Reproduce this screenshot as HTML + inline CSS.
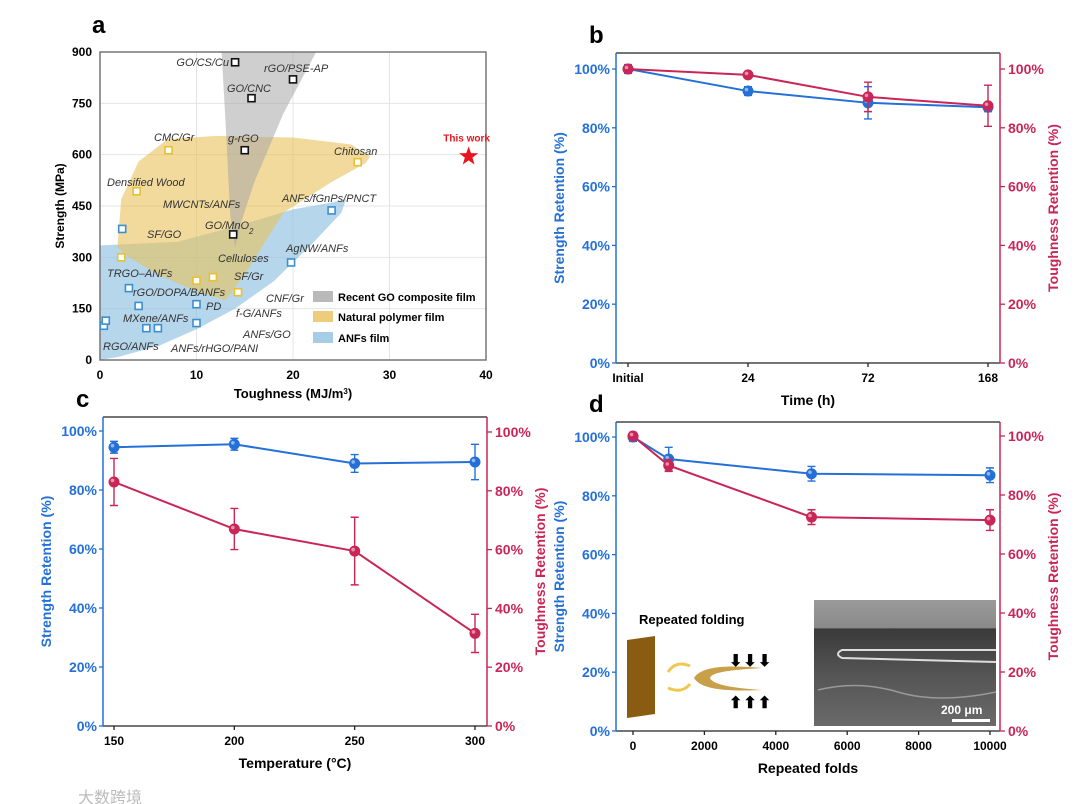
<!DOCTYPE html>
<html><head><meta charset="utf-8">
<style>
html,body{margin:0;padding:0;background:#fff;}
svg{display:block;font-family:"Liberation Sans",Arial,sans-serif;}
.tk{font-size:12px;font-weight:bold;}
.lab{font-size:11px;font-style:italic;fill:#333;}
</style></head>
<body>
<svg id="fig" width="1080" height="804" viewBox="0 0 1080 804" xmlns="http://www.w3.org/2000/svg">
<g id="pa"></g>
<g id="pb"></g>
<g id="pc"></g>
<g id="pd"></g>
<text x="78" y="803" font-size="16" fill="#bbb" font-family="'Liberation Sans','Noto Sans CJK SC',sans-serif">大数跨境</text>
</svg>
<script>
// ---------- Panel a data ----------
const aXTicks=[0,10,20,30,40];
const aYTicks=[0,150,300,450,600,750,900];
const goNames=["GO/CS/Cu","rGO/PSE-AP","GO/CNC","g-rGO","GO/MnO2"];
const goX=[14,20,15.7,15,13.8];
const goY=[870,820,765,613,367];
const npNames=["CMC/Gr","Chitosan","Densified Wood","SF/GO","Celluloses","SF/Gr","CNF/Gr"];
const npX=[7.1,26.7,3.8,2.2,10,11.7,14.3];
const npY=[613,578,493,300,232,242,198];
const anNames=["MWCNTs/ANFs","ANFs/fGnPs/PNCT","AgNW/ANFs","rGO/DOPA/BANFs","PD","MXene/ANFs","f-G/ANFs","ANFs/GO","ANFs/rHGO/PANI","RGO/ANFs","TRGO-ANFs"];
const anX=[2.3,24,19.8,3,10,4,10,6,4.8,0.4,0.6];
const anY=[383,437,285,210,163,158,108,93,93,100,115];
const starX=[38.2];
const starY=[595];
const grayRegX=[12.6,22.4,19,16,14.6,14,13.5,13];
const grayRegY=[900,900,720,520,400,330,420,700];
const yelRegX=[1.8,2.2,4,7,12,20,26,28,27.5,24,19,15,13,10,6,3,1.8];
const yelRegY=[330,470,580,645,655,650,630,595,575,520,430,250,175,200,250,300,330];
const bluRegX=[0,8,14,20,24,25.5,25,22,18,14,10,6,2,0];
const bluRegY=[335,345,390,440,460,470,430,340,230,150,90,40,10,0];

// ---------- Panel b data ----------
const bCats=["Initial","24","72","168"];
const bStrength=[100,92.5,88.5,87];
const bStrengthErr=[1.5,1.5,5.5,1.5];
const bTough=[100,98,90.5,87.5];
const bToughErr=[1.2,0.8,5,7];

// ---------- Panel c data ----------
const cX=[150,200,250,300];
const cXTicks=[150,200,250,300];
const cStrength=[94.5,95.5,89,89.5];
const cStrengthErr=[2,2,3,6];
const cTough=[83,67,59.5,31.5];
const cToughErr=[8,7,11.5,6.5];

// ---------- Panel d data ----------
const dX=[0,1000,5000,10000];
const dXTicks=[0,2000,4000,6000,8000,10000];
const dStrength=[100,92.5,87.5,87];
const dStrengthErr=[1.5,4,2.5,2.5];
const dTough=[100,90,72.5,71.5];
const dToughErr=[1.2,2,2.5,3.5];
const pctTicks=[0,20,40,60,80,100];

const NS="http://www.w3.org/2000/svg";
const BLUE="#2470d8", RED="#c92657";
function mk(parent,tag,attrs,txt){const e=document.createElementNS(NS,tag);for(const k in attrs)e.setAttribute(k,attrs[k]);if(txt!==undefined)e.textContent=txt;parent.appendChild(e);return e;}
function lin(d0,d1,p0,p1){return v=>p0+(v-d0)/(d1-d0)*(p1-p0);}

// ===== Panel A =====
(function(){
const g=document.getElementById('pa');
const X=lin(0,40,100,486), Y=lin(0,900,360,52);
let t=mk(g,'text',{x:92,y:33,'font-size':24,'font-weight':'bold'},'a');

aXTicks.forEach(v=>{let l=mk(g,'line',{x1:X(v),x2:X(v),y1:52,y2:360,stroke:'#e4e4e4'});
});
aYTicks.forEach(v=>{let l=mk(g,'line',{x1:100,x2:486,y1:Y(v),y2:Y(v),stroke:'#e4e4e4'});
});
function region(xs,ys,fill,op,name){const p=xs.map((x,i)=>X(x)+','+Y(ys[i])).join(' ');
 let e=mk(g,'polygon',{points:p,fill:fill,'fill-opacity':op,'stroke-linejoin':'round'});
 }
region(bluRegX,bluRegY,'#8fc0e0',0.65,'anfs-region');
region(yelRegX,yelRegY,'#e8c15a',0.6,'natural-polymer-region');
region(grayRegX,grayRegY,'#a8a8a8',0.55,'go-composite-region');
let fr=mk(g,'rect',{x:100,y:52,width:386,height:308,fill:'none',stroke:'#777','stroke-width':1.5});

aXTicks.forEach(v=>{let e=mk(g,'text',{x:X(v),y:379,'text-anchor':'middle',class:'tk'},v);
});
aYTicks.forEach(v=>{let e=mk(g,'text',{x:92,y:Y(v)+4,'text-anchor':'end',class:'tk'},v);
});
let xt=mk(g,'text',{x:293,y:398,'text-anchor':'middle','font-size':13,'font-weight':'bold'});
xt.innerHTML='Toughness (MJ/m<tspan baseline-shift="super" font-size="8">3</tspan>)';

let yt=mk(g,'text',{x:0,y:0,transform:'translate(64,206) rotate(-90)','text-anchor':'middle','font-size':12,'font-weight':'bold'},'Strength (MPa)');

function pts(xs,ys,col,name){xs.forEach((x,i)=>{let r=mk(g,'rect',{x:X(x)-3.5,y:Y(ys[i])-3.5,width:7,height:7,fill:'#fff',stroke:col,'stroke-width':1.6});
 });}
pts(goX,goY,'#111','go-point');pts(npX,npY,'#e8c030','natural-point');pts(anX,anY,'#3a8fd0','anfs-point');
const sx=X(starX[0]),sy=Y(starY[0]);let sp=[];for(let i=0;i<10;i++){const r=i%2?4:10,a=-Math.PI/2+i*Math.PI/5;sp.push((sx+r*Math.cos(a))+','+(sy+r*Math.sin(a)));}
let st=mk(g,'polygon',{points:sp.join(' '),fill:'#e8141e'});
let tw=mk(g,'text',{x:sx-2,y:sy-15,'text-anchor':'middle','font-size':10,'font-weight':'bold',fill:'#e8141e'},'This work');

const L=[["GO/CS/Cu",229,66,'end'],["rGO/PSE-AP",264,72],["GO/CNC",227,92],["g-rGO",228,142],["CMC/Gr",154,141],["Chitosan",334,155],["Densified Wood",107,186],["MWCNTs/ANFs",163,208],["SF/GO",147,238],["ANFs/fGnPs/PNCT",282,202],["AgNW/ANFs",286,252],["Celluloses",218,262],["TRGO–ANFs",107,277],["SF/Gr",234,280],["rGO/DOPA/BANFs",133,296],["CNF/Gr",266,302],["PD",206,310],["f-G/ANFs",236,317],["MXene/ANFs",123,322],["ANFs/GO",243,338],["RGO/ANFs",103,350],["ANFs/rHGO/PANI",171,352]];
L.forEach(l=>{let e=mk(g,'text',{x:l[1],y:l[2],class:'lab','text-anchor':l[3]||'start'},l[0]);});
let mn=mk(g,'text',{x:205,y:229,class:'lab'});mn.innerHTML='GO/MnO<tspan baseline-shift="sub" font-size="8">2</tspan>';

const LEG=[['#a8a8a8','Recent GO composite film',297],['#e8c15a','Natural polymer film',317],['#8fc0e0','ANFs film',338]];
LEG.forEach(l=>{let r=mk(g,'rect',{x:313,y:l[2]-6,width:20,height:11,fill:l[0],'fill-opacity':0.8});
let e=mk(g,'text',{x:338,y:l[2]+4,'font-size':11,'font-weight':'bold'},l[1]);});
})();

// ===== Line panels =====
function linePanel(id,letter,box,xs,xTicks,xLabels,xDom,s,se,t,te,xTitle,rTop,rBot){
const g=document.getElementById(id);
const X=lin(xDom[0],xDom[1],box.px0,box.px1);
const YL=lin(0,100,box.y0,box.y100);
const YR=lin(0,100,rBot,rTop);
let lt=mk(g,'text',{x:box.x0-27,y:box.top-10,'font-size':24,'font-weight':'bold'},letter);

let a;
a=mk(g,'line',{x1:box.x0,x2:box.x1,y1:box.top,y2:box.top,stroke:'#222','stroke-width':1.3});
a=mk(g,'line',{x1:box.x0,x2:box.x1,y1:box.bot,y2:box.bot,stroke:'#222','stroke-width':1.3});
a=mk(g,'line',{x1:box.x0,x2:box.x0,y1:box.top,y2:box.bot,stroke:BLUE,'stroke-width':1.5});
a=mk(g,'line',{x1:box.x1,x2:box.x1,y1:box.top,y2:box.bot,stroke:RED,'stroke-width':1.5});
pctTicks.forEach(v=>{
 let k=mk(g,'line',{x1:box.x0-4,x2:box.x0,y1:YL(v),y2:YL(v),stroke:BLUE,'stroke-width':1.3});
 let e=mk(g,'text',{x:box.x0-6,y:YL(v)+5,'text-anchor':'end','font-size':14,'font-weight':'bold',fill:BLUE},v+'%');
 k=mk(g,'line',{x1:box.x1,x2:box.x1+5,y1:YR(v),y2:YR(v),stroke:RED,'stroke-width':1.3});
 e=mk(g,'text',{x:box.x1+8,y:YR(v)+5,'font-size':14,'font-weight':'bold',fill:RED},v+'%');
});
xTicks.forEach((v,i)=>{
 let k=mk(g,'line',{x1:X(v),x2:X(v),y1:box.bot,y2:box.bot+4,stroke:'#222','stroke-width':1.3});
 let e=mk(g,'text',{x:X(v),y:box.bot+19,'text-anchor':'middle',class:'tk'},xLabels[i]);
});
let xt=mk(g,'text',{x:(box.x0+box.x1)/2,y:box.bot+42,'text-anchor':'middle','font-size':14,'font-weight':'bold'},xTitle);

let yt=mk(g,'text',{x:0,y:0,transform:`translate(${box.x0-52},${(box.top+box.bot)/2}) rotate(-90)`,'text-anchor':'middle','font-size':14,'font-weight':'bold',fill:BLUE},'Strength Retention (%)');

let ry=mk(g,'text',{x:0,y:0,transform:`translate(${box.x1+58},${(box.top+box.bot)/2}) rotate(-90)`,'text-anchor':'middle','font-size':14,'font-weight':'bold',fill:RED},'Toughness Retention (%)');

function series(vals,errs,Y,col,name){
 const p=xs.map((x,i)=>X(x)+','+Y(vals[i])).join(' ');
 let pl=mk(g,'polyline',{points:p,fill:'none',stroke:col,'stroke-width':2});
 xs.forEach((x,i)=>{const cx=X(x),hi=Y(vals[i]+errs[i]),lo=Y(vals[i]-errs[i]);
  let e=mk(g,'path',{d:`M${cx},${hi}V${lo}M${cx-4},${hi}H${cx+4}M${cx-4},${lo}H${cx+4}`,stroke:col,'stroke-width':1.4,fill:'none'});
  
  let c=mk(g,'circle',{cx:cx,cy:Y(vals[i]),r:5,fill:col,stroke:col});
  
  let h=mk(g,'circle',{cx:cx-1.5,cy:Y(vals[i])-1.5,r:1.8,fill:'#fff','fill-opacity':0.5});
 });
}
series(s,se,YL,BLUE,'strength');
series(t,te,YR,RED,'toughness');
return g;
}
const bIdx=bCats.map((c,i)=>i);
linePanel('pb','b',{x0:616,x1:1000,top:53,bot:363,y0:363,y100:69,px0:628,px1:988},bIdx,bIdx,bCats,[0,3],bStrength,bStrengthErr,bTough,bToughErr,'Time (h)',69,363);
linePanel('pc','c',{x0:103,x1:487,top:417,bot:726,y0:726,y100:431,px0:114,px1:475},cX,cXTicks,cXTicks,[150,300],cStrength,cStrengthErr,cTough,cToughErr,'Temperature (°C)',432,726);
const gd=linePanel('pd','d',{x0:616,x1:1000,top:422,bot:731,y0:731,y100:437,px0:633,px1:990},dX,dXTicks,dXTicks,[0,10000],dStrength,dStrengthErr,dTough,dToughErr,'Repeated folds',436,731);

// inset in d
(function(){
const g=gd;
let e=mk(g,'text',{x:639,y:624,'font-size':13,'font-weight':'bold'},'Repeated folding');
e=mk(g,'polygon',{points:'627,640 655,636 655,714 627,718',fill:'#8a5c12'});
e=mk(g,'path',{d:'M762,668 C720,664 700,668 694,678 C700,688 720,692 762,690 C730,688 712,684 710,678 C712,672 730,670 762,668Z',fill:'#c9a04a'});
e=mk(g,'path',{d:'M668,672 q8,-12 22,-6 M690,684 q-8,10 -22,4',stroke:'#f0c850','stroke-width':3,fill:'none'});
e=mk(g,'text',{x:729,y:666,'font-size':16,'font-weight':'bold','letter-spacing':'1'},'⬇⬇⬇');
e=mk(g,'text',{x:729,y:708,'font-size':16,'font-weight':'bold','letter-spacing':'1'},'⬆⬆⬆');
const defs=mk(g,'defs',{});const lg=mk(defs,'linearGradient',{id:'sem',x1:0,y1:0,x2:0,y2:1});
mk(lg,'stop',{offset:'0','stop-color':'#9a9a9a'});mk(lg,'stop',{offset:'0.22','stop-color':'#8a8a8a'});mk(lg,'stop',{offset:'0.23','stop-color':'#3a3a3a'});mk(lg,'stop',{offset:'0.6','stop-color':'#555'});mk(lg,'stop',{offset:'1','stop-color':'#6a6a6a'});
e=mk(g,'rect',{x:814,y:600,width:182,height:126,fill:'url(#sem)'});
e=mk(g,'path',{d:'M996,650 H842 q-8,4 0,8 L996,662',stroke:'#ddd','stroke-width':2,fill:'none'});
e=mk(g,'path',{d:'M818,690 q40,-10 80,2 t98,0',stroke:'#999','stroke-width':1.5,fill:'none'});
e=mk(g,'text',{x:941,y:714,'font-size':12,'font-weight':'bold',fill:'#fff'},'200 μm');
e=mk(g,'rect',{x:952,y:719,width:38,height:3,fill:'#fff'});
})();
</script>
</body></html>
